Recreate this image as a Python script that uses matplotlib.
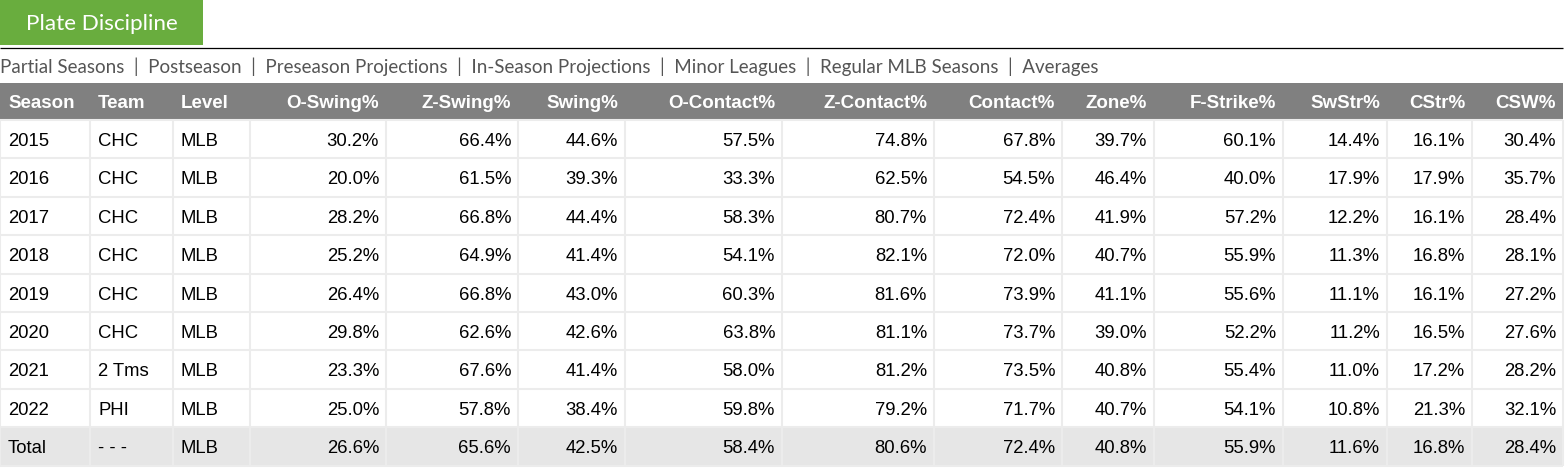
import matplotlib
matplotlib.use("Agg")
import matplotlib.pyplot as plt
from matplotlib.patches import Rectangle

# table content
columns = ["Season", "Team", "Level", "O-Swing%", "Z-Swing%", "Swing%", "O-Contact%",
           "Z-Contact%", "Contact%", "Zone%", "F-Strike%", "SwStr%", "CStr%", "CSW%"]
seasons = ["2015", "2016", "2017", "2018", "2019", "2020", "2021", "2022", "Total"]
teams = ["CHC", "CHC", "CHC", "CHC", "CHC", "CHC", "2 Tms", "PHI", "- - -"]
levels = ["MLB"] * 9
o_swing = [30.2, 20.0, 28.2, 25.2, 26.4, 29.8, 23.3, 25.0, 26.6]
z_swing = [66.4, 61.5, 66.8, 64.9, 66.8, 62.6, 67.6, 57.8, 65.6]
swing = [44.6, 39.3, 44.4, 41.4, 43.0, 42.6, 41.4, 38.4, 42.5]
o_contact = [57.5, 33.3, 58.3, 54.1, 60.3, 63.8, 58.0, 59.8, 58.4]
z_contact = [74.8, 62.5, 80.7, 82.1, 81.6, 81.1, 81.2, 79.2, 80.6]
contact = [67.8, 54.5, 72.4, 72.0, 73.9, 73.7, 73.5, 71.7, 72.4]
zone = [39.7, 46.4, 41.9, 40.7, 41.1, 39.0, 40.8, 40.7, 40.8]
f_strike = [60.1, 40.0, 57.2, 55.9, 55.6, 52.2, 55.4, 54.1, 55.9]
swstr = [14.4, 17.9, 12.2, 11.3, 11.1, 11.2, 11.0, 10.8, 11.6]
cstr = [16.1, 17.9, 16.1, 16.8, 16.1, 16.5, 17.2, 21.3, 16.8]
csw = [30.4, 35.7, 28.4, 28.1, 27.2, 27.6, 28.2, 32.1, 28.4]

links = ["Partial Seasons", "Postseason", "Preseason Projections", "In-Season Projections",
         "Minor Leagues", "Regular MLB Seasons", "Averages"]

text_cols = [seasons, teams, levels]
num_cols = [o_swing, z_swing, swing, o_contact, z_contact, contact, zone,
            f_strike, swstr, cstr, csw]

# layout in pixels
W, H = 1565, 472
col_edges = [0, 90, 173, 250, 386, 518, 625, 782, 934, 1062, 1154, 1283, 1387, 1472, 1563]
head_top, head_bot = 83, 120
row_h = 38.4

fig = plt.figure(figsize=(W / 100, H / 100), dpi=100)
ax = fig.add_axes([0, 0, 1, 1])
ax.set_xlim(0, W)
ax.set_ylim(H, 0)
ax.axis("off")

# button + rule + links
ax.add_patch(Rectangle((0, 0), 203, 45, color="#69ad3e", lw=0))
ax.text(101.5, 29.5, "Plate Discipline", color="white", fontsize=16.2, family="Lato",
        ha="center", va="baseline")
ax.plot([0, 1563], [47.5, 47.5], color="black", lw=0.9, solid_capstyle="butt")
ax.text(0, 73, "  |  ".join(links), color="#555555", fontsize=13.5, family="Lato",
        ha="left", va="baseline")

# header
ax.add_patch(Rectangle((0, head_top), col_edges[-1], head_bot - head_top, color="#808080", lw=0))
for i, name in enumerate(columns):
    if i < 3:
        ax.text(col_edges[i] + 8, 108.5, name, color="white", fontsize=13.5, weight="bold",
                family="Liberation Sans", ha="left", va="baseline")
    else:
        ax.text(col_edges[i + 1] - 7, 108.5, name, color="white", fontsize=13.5, weight="bold",
                family="Liberation Sans", ha="right", va="baseline")

# total row background
n = len(seasons)
ax.add_patch(Rectangle((0, head_bot + (n - 1) * row_h), col_edges[-1], row_h,
                       color="#e6e6e6", lw=0))

# cell borders
grid = "#ececec"
body_bot = head_bot + n * row_h
for x in col_edges:
    ax.plot([x, x], [head_bot, body_bot], color=grid, lw=1.5, solid_capstyle="butt")
for r in range(n + 1):
    y = head_bot + r * row_h
    ax.plot([0, col_edges[-1]], [y, y], color=grid, lw=1.5, solid_capstyle="butt")

# cells
for r in range(n):
    yb = head_bot + r * row_h + row_h / 2 + 6.8
    for c, col in enumerate(text_cols):
        ax.text(col_edges[c] + 8, yb, col[r], color="black", fontsize=13.3,
                family="Liberation Sans", ha="left", va="baseline")
    for c, col in enumerate(num_cols):
        ax.text(col_edges[c + 4] - 7, yb, f"{col[r]:.1f}%", color="black", fontsize=13.3,
                family="Liberation Sans", ha="right", va="baseline")

fig.savefig("out.png", dpi=100)
